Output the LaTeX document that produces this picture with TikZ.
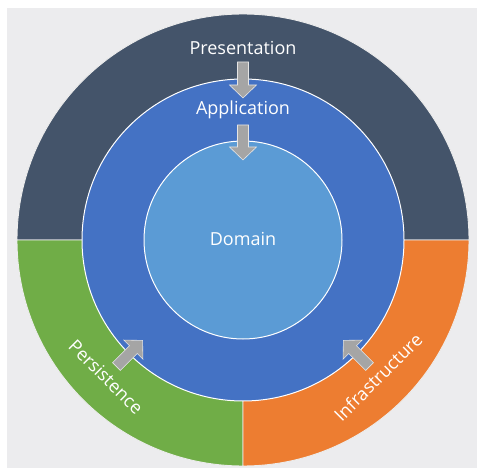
\documentclass[tikz,border=0pt]{standalone}
\usepackage{fontspec}
\setmainfont{Open Sans}
\definecolor{bgc}{HTML}{ECECEE}
\definecolor{slate}{HTML}{44546A}
\definecolor{midblue}{HTML}{4472C4}
\definecolor{lightblue}{HTML}{5B9BD5}
\definecolor{grn}{HTML}{70AD47}
\definecolor{orng}{HTML}{ED7D31}
\definecolor{arrgray}{HTML}{A5A5A5}
\begin{document}
\begin{tikzpicture}[x=1pt,y=-1pt,
  seg/.style={draw=white!85!gray, line width=0.9pt},
  ring/.style={draw=white, line width=1pt},
  lbl/.style={text=white, font=\fontsize{18}{20}\selectfont, inner sep=0pt},
  blockarrow/.style={fill=arrgray, draw=white!80!gray, line width=0.6pt}]
\useasboundingbox (0,0) rectangle (477,468);
\fill[white] (0,0) rectangle (477,468);
\fill[bgc] (7,8) rectangle (477,468);
\coordinate (c) at (243,240);
% outer ring segments
\filldraw[seg, fill=slate] (c) ++(-226pt,0pt) arc[start angle=180, end angle=0, radius=226pt] -- cycle;
\filldraw[seg, fill=grn] (c) -- ++(-226pt,0pt) arc[start angle=180, end angle=270, radius=226pt] -- cycle;
\filldraw[seg, fill=orng] (c) -- ++(0pt,-226pt) arc[start angle=270, end angle=360, radius=226pt] -- cycle;
% middle and inner circles
\filldraw[ring, fill=midblue] (c) circle[radius=161pt];
\filldraw[ring, fill=lightblue] (c) circle[radius=99pt];
% arrows
\foreach \ang/\ra/\rb in {90/178/142, 90/115/80, 225/179/142, 315/179/142}{
  \begin{scope}[shift={(c)}, rotate=\ang]
    \pgfmathsetmacro{\hb}{\rb+13}
    \filldraw[blockarrow] (\ra,-5.5) -- (\hb,-5.5) -- (\hb,-13.5) -- (\rb,0) -- (\hb,13.5) -- (\hb,5.5) -- (\ra,5.5) -- cycle;
  \end{scope}
}
% labels
\node[lbl, anchor=base] (pres) at (243,55) {Presentation};
\node[lbl, anchor=base] (app) at (243,115) {Application};
\node[lbl, anchor=base] (dom) at (243,245) {Domain};
\node[lbl, rotate=-45] (pers) at (106,377) {Persistence};
\node[lbl, rotate=45] (infra) at (378,377) {Infrastructure};
\end{tikzpicture}
\end{document}
